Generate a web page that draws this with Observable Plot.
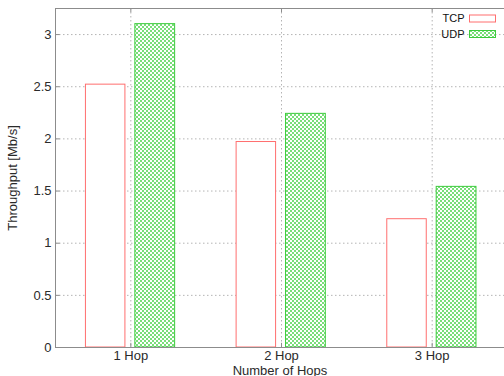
<!DOCTYPE html>
<html><head><meta charset="utf-8">
<script src="https://cdn.jsdelivr.net/npm/d3@7"></script>
<script src="https://cdn.jsdelivr.net/npm/@observablehq/plot@0.6"></script>
<style>body{margin:0;background:#fff;} svg{display:block;}</style>
</head><body><div id="chart"></div>
<script>
const hops = ["1 Hop", "2 Hop", "3 Hop"];
const hopPos = [1, 2, 3];
const tcp = [2.52, 1.97, 1.23];
const udp = [3.10, 2.24, 1.54];
const seriesNames = ["TCP", "UDP"];
const yTicks = [0, 0.5, 1, 1.5, 2, 2.5, 3];
const yTickLabels = ["0", "0.5", "1", "1.5", "2", "2.5", "3"];

const bars = [];
hopPos.forEach((p, i) => {
  bars.push({series: "TCP", x1: p - 0.298, x2: p - 0.036, value: tcp[i]});
  bars.push({series: "UDP", x1: p + 0.03, x2: p + 0.294, value: udp[i]});
});

const xMin = 0.5, xMax = 3.48, yMax = 3.25;
const frameColor = "#8c8c8c";
const gridColor = "#b4b4b4";
const textColor = "#2a2a2a";

const plot = Plot.plot({
  width: 504, height: 376,
  marginLeft: 55, marginRight: 0, marginTop: 8, marginBottom: 29,
  style: {fontFamily: "'Liberation Sans', Arial, sans-serif", fontSize: "13px", background: "#fff", color: textColor},
  x: {type: "linear", domain: [xMin, xMax]},
  y: {domain: [0, yMax]},
  marks: [
    Plot.ruleY(yTicks.slice(1), {stroke: gridColor, strokeDasharray: "1.5,2.5", strokeWidth: 1}),
    Plot.ruleX(hopPos, {stroke: gridColor, strokeDasharray: "1.5,2.5", strokeWidth: 1}),
    Plot.rectY(bars.filter(d => d.series === "TCP"), {x1: "x1", x2: "x2", y1: 0, y2: "value", fill: "white", stroke: "#ff6f6f", strokeWidth: 1}),
    Plot.rectY(bars.filter(d => d.series === "UDP"), {x1: "x1", x2: "x2", y1: 0, y2: "value", fill: "url(#hatch)", stroke: "#3ccc3c", strokeWidth: 1}),
    Plot.ruleY(yTicks, {x1: xMin, x2: xMin + 0.03, stroke: frameColor}),
    Plot.ruleX(hopPos, {y1: 0, y2: 0.04, stroke: frameColor}),
    Plot.ruleX(hopPos, {y1: yMax - 0.04, y2: yMax, stroke: frameColor}),
    Plot.ruleX([xMin], {stroke: frameColor}),
    Plot.ruleY([0, yMax], {stroke: frameColor}),
    Plot.axisY(yTicks, {tickSize: 0, tickPadding: 4, tickFormat: (d, i) => yTickLabels[i], label: "Throughput [Mb/s]", labelAnchor: "center", labelArrow: "none", labelOffset: 48}),
    Plot.axisX(hopPos, {tickSize: 0, tickPadding: 3, tickFormat: (d, i) => hops[i], label: "Number of Hops", labelAnchor: "center", labelArrow: "none", labelOffset: 27})
  ]
});

const svg = d3.select(plot);
const defs = svg.insert("defs", ":first-child");
const pat = defs.append("pattern").attr("id", "hatch").attr("patternUnits", "userSpaceOnUse").attr("width", 4).attr("height", 4);
pat.append("rect").attr("width", 4).attr("height", 4).attr("fill", "#ffffff");
pat.append("rect").attr("width", 2).attr("height", 2).attr("fill", "#7ade7a");
pat.append("rect").attr("x", 2).attr("y", 2).attr("width", 2).attr("height", 2).attr("fill", "#7ade7a");

// legend (inside top-right)
const leg = svg.append("g").attr("font-family", "'Liberation Sans', Arial, sans-serif").attr("font-size", 11);
seriesNames.forEach((s, i) => {
  const cy = 18.5 + i * 15.5;
  leg.append("text").attr("x", 464.5).attr("y", cy).attr("dy", "0.35em").attr("text-anchor", "end").attr("fill", "#111").text(s);
  leg.append("rect").attr("x", 469.5).attr("y", cy - 3.5).attr("width", 26).attr("height", 7)
    .attr("fill", s === "TCP" ? "white" : "url(#hatch)").attr("stroke", s === "TCP" ? "#ff6f6f" : "#3ccc3c");
});

document.getElementById("chart").appendChild(plot);
</script>
</body></html>
